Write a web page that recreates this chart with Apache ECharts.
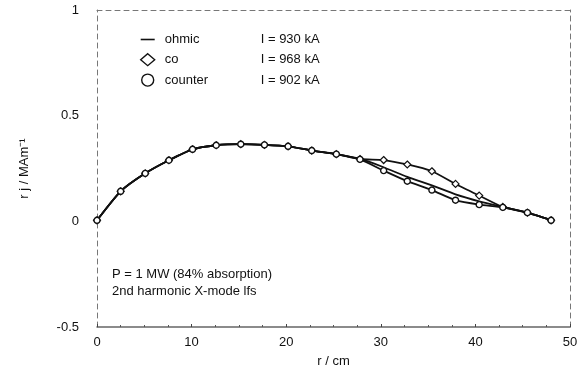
<!DOCTYPE html>
<html>
<head>
<meta charset="utf-8">
<script src="https://cdn.jsdelivr.net/npm/echarts@6/dist/echarts.min.js"></script>
<style>
html,body{margin:0;padding:0;background:#fff;}
#chart{width:587px;height:376px;}
</style>
</head>
<body>
<div id="chart"></div>
<script>
// radius r / cm
var radius = [0, 2.5, 5.1, 7.6, 10.1, 12.6, 15.2, 17.7, 20.2, 22.7, 25.3, 27.8, 30.3, 32.8, 35.4, 37.9, 40.4, 42.9, 45.5, 48.0];
// r j / MAm^-1
var ohmic   = [0.005, 0.142, 0.227, 0.289, 0.341, 0.360, 0.365, 0.362, 0.355, 0.335, 0.318, 0.295, 0.256, 0.210, 0.170, 0.128, 0.095, 0.068, 0.041, 0.005];
var co      = [0.005, 0.142, 0.227, 0.289, 0.341, 0.360, 0.365, 0.362, 0.355, 0.335, 0.318, 0.295, 0.290, 0.269, 0.237, 0.177, 0.122, 0.068, 0.041, 0.005];
var counter = [0.005, 0.142, 0.227, 0.289, 0.341, 0.360, 0.365, 0.362, 0.355, 0.335, 0.318, 0.293, 0.240, 0.190, 0.148, 0.100, 0.079, 0.066, 0.041, 0.005];
var seriesNames = ['ohmic', 'co', 'counter'];
var currents = ['930', '968', '902'];
var xTicks = [0, 10, 20, 30, 40, 50];
var yTicks = [-0.5, 0, 0.5, 1];

function pairs(ys){ return radius.map(function(r,i){ return [r, ys[i]]; }); }

var font = 'Liberation Sans, Arial, sans-serif';
var chart = echarts.init(document.getElementById('chart'), null, {renderer:'canvas'});
var lineStyle = {color:'#111', width:1.8};
var dashed = {color:'#777', width:1, type:[5,4]};

chart.setOption({
  animation:false,
  backgroundColor:'#fff',
  textStyle:{fontFamily:font},
  grid:{left:97, right:17, top:10, bottom:49},
  legend:{
    orient:'vertical', left:135, top:28, itemGap:7, itemWidth:14, itemHeight:12,
    data:[
      {name:'ohmic', icon:'path://M0,0L14,0L14,1.6L0,1.6Z', itemStyle:{color:'#111', borderWidth:0}},
      {name:'co', icon:'diamond', itemStyle:{color:'#fff', borderColor:'#111', borderWidth:1.4}},
      {name:'counter', icon:'circle', itemStyle:{color:'#fff', borderColor:'#111', borderWidth:1.4}}
    ],
    formatter:function(name){
      var i = seriesNames.indexOf(name);
      return '{n|' + name + '}{c|I = ' + currents[i] + ' kA}';
    },
    textStyle:{
      fontFamily:font, fontSize:13, color:'#111',
      rich:{
        n:{width:96, padding:[0,0,0,5], fontSize:13, fontFamily:font, color:'#111'},
        c:{fontSize:13, fontFamily:font, color:'#111'}
      }
    }
  },
  xAxis:[{
    type:'value', min:0, max:50, interval:10,
    axisLine:{show:true, onZero:false, lineStyle:{color:'#666', width:1.5}},
    axisTick:{show:true, inside:true, length:3, lineStyle:{color:'#444'}},
    minorTick:{show:true, splitNumber:4, length:2, lineStyle:{color:'#555'}},
    splitLine:{show:false},
    axisLabel:{color:'#111', fontSize:13, fontFamily:font, margin:9,
      formatter:function(v){ return xTicks.indexOf(v) >= 0 ? String(v) : ''; }},
    name:'r / cm', nameLocation:'middle', nameGap:28,
    nameTextStyle:{color:'#111', fontSize:13, fontFamily:font}
  },{
    type:'value', position:'top', min:0, max:50,
    axisLine:{show:true, onZero:false, lineStyle:dashed},
    axisTick:{show:false}, axisLabel:{show:false}, splitLine:{show:false}
  }],
  yAxis:[{
    type:'value', min:-0.5, max:1, interval:0.5,
    axisLine:{show:true, onZero:false, lineStyle:dashed},
    axisTick:{show:false},
    splitLine:{show:false},
    axisLabel:{color:'#111', fontSize:13, fontFamily:font, margin:18,
      formatter:function(v){ return yTicks.indexOf(v) >= 0 ? String(v) : ''; }},
    name:'r j / MAm\u207B\u00B9', nameLocation:'middle', nameGap:66, nameRotate:90,
    nameTextStyle:{color:'#111', fontSize:13, fontFamily:font}
  },{
    type:'value', position:'right', min:-0.5, max:1, interval:0.5,
    axisLine:{show:true, onZero:false, lineStyle:dashed},
    axisTick:{show:false}, axisLabel:{show:false}, splitLine:{show:false}
  }],
  graphic:[{
    type:'text', left:112, top:266,
    style:{text:'P = 1 MW (84% absorption)\n2nd harmonic X-mode lfs', fill:'#111',
      font:'13px ' + font, lineHeight:17}
  }],
  series:[
    {name:'ohmic', type:'line', data:pairs(ohmic), symbol:'none', smooth:0.2,
      lineStyle:lineStyle, itemStyle:{color:'#111'}, z:2},
    {name:'co', type:'line', data:pairs(co), symbol:'diamond', symbolSize:7, smooth:0.2,
      lineStyle:lineStyle, itemStyle:{color:'#fff', borderColor:'#111', borderWidth:1.2}, z:3},
    {name:'counter', type:'line', data:pairs(counter), symbol:'circle', symbolSize:6, smooth:0.2,
      lineStyle:lineStyle, itemStyle:{color:'#fff', borderColor:'#111', borderWidth:1.4}, z:4}
  ]
});
</script>
</body>
</html>
